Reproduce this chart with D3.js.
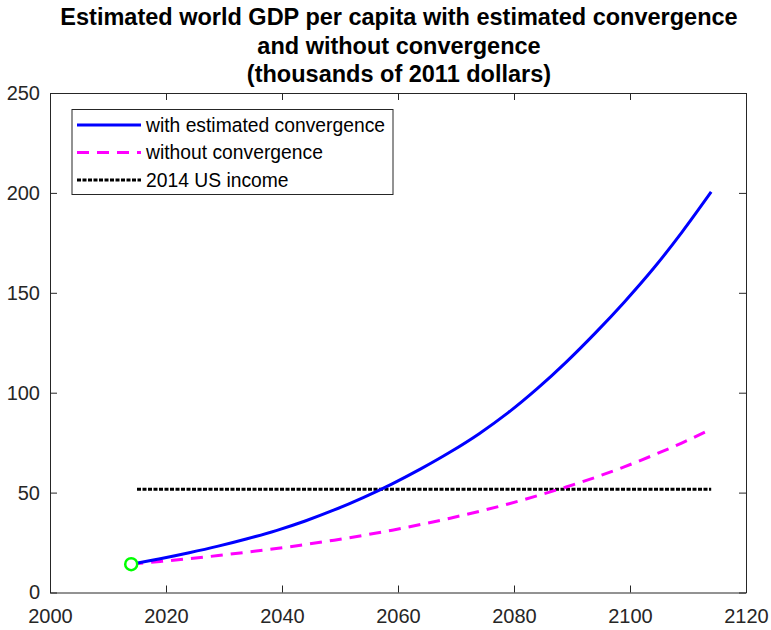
<!DOCTYPE html>
<html>
<head>
<meta charset="utf-8">
<script src="https://cdn.jsdelivr.net/npm/d3@7"></script>
<style>
  body { margin: 0; background: #fff; }
  svg { display: block; font-family: "Liberation Sans", Arial, sans-serif; }
</style>
</head>
<body>
<svg id="chart" width="771" height="630"></svg>
<script>
// data (thousands of 2011 dollars)
const years = [2014, 2019, 2024, 2029, 2034, 2039, 2044, 2049, 2054, 2059, 2064,
               2069, 2074, 2079, 2084, 2089, 2094, 2099, 2104, 2109, 2114];
const withConv = [14.2, 16.9, 19.9, 23.2, 26.9, 31.0, 35.8, 41.3, 47.5, 54.4, 62.0,
                  70.3, 79.5, 90.0, 102.0, 115.3, 129.8, 145.3, 162.0, 180.5, 200.5];
const withoutConv = [14.2, 15.5, 16.9, 18.5, 20.2, 22.0, 24.0, 26.2, 28.6, 31.2, 34.1,
                     37.2, 40.6, 44.3, 48.4, 52.8, 57.6, 62.9, 68.7, 74.9, 81.8];
const usIncomeYears = [2015, 2114];
const usIncome = [51.7, 51.7];
const startPoint = [2014, 14.2];

const xTicks = [2000, 2020, 2040, 2060, 2080, 2100, 2120];
const yTicks = [0, 50, 100, 150, 200, 250];
const titleLines = ['Estimated world GDP per capita with estimated convergence',
                    'and without convergence',
                    '(thousands of 2011 dollars)'];
const legendLabels = ['with estimated convergence', 'without convergence', '2014 US income'];

const svg = d3.select('#chart');
const axisColor = '#262626';

const x = d3.scaleLinear().domain([2000, 2120]).range([50, 746]);
const y = d3.scaleLinear().domain([0, 250]).range([592.5, 93]);

// title
svg.append('g').selectAll('text')
  .data(titleLines)
  .enter()
  .append('text')
  .attr('x', 399)
  .attr('y', (d, i) => 25 + i * 28.5)
  .attr('text-anchor', 'middle')
  .style('font-size', '23.5px')
  .style('font-weight', 'bold')
  .style('fill', '#000')
  .text(d => d);

// axes, MATLAB style: box with inward ticks
const tick = 7;
const gx = svg.append('g')
  .attr('transform', `translate(0,${y(0)})`)
  .call(d3.axisBottom(x).tickValues(xTicks).tickFormat(d3.format('d'))
        .tickSizeInner(-tick).tickSizeOuter(0).tickPadding(16));
const gxTop = svg.append('g')
  .attr('transform', `translate(0,${y(250)})`)
  .call(d3.axisTop(x).tickValues(xTicks).tickFormat('')
        .tickSizeInner(-tick).tickSizeOuter(0));
const gy = svg.append('g')
  .attr('transform', `translate(${x(2000)},0)`)
  .call(d3.axisLeft(y).tickValues(yTicks)
        .tickSizeInner(-tick).tickSizeOuter(0).tickPadding(10));
const gyRight = svg.append('g')
  .attr('transform', `translate(${x(2120)},0)`)
  .call(d3.axisRight(y).tickValues(yTicks).tickFormat('')
        .tickSizeInner(-tick).tickSizeOuter(0));

[gx, gxTop, gy, gyRight].forEach(g => {
  g.select('.domain').attr('stroke', axisColor).attr('stroke-width', 1);
  g.selectAll('.tick line').attr('stroke', axisColor).attr('stroke-width', 1);
  g.selectAll('.tick text')
    .attr('fill', axisColor)
    .style('font-size', '20px')
    .style('font-family', '"Liberation Sans", Arial, sans-serif');
});

// series
const line = d3.line()
  .x(d => x(d[0]))
  .y(d => y(d[1]))
  .curve(d3.curveMonotoneX);

const blueData = years.map((yr, i) => [yr, withConv[i]]);
const magentaData = years.map((yr, i) => [yr, withoutConv[i]]);
const blackData = usIncomeYears.map((yr, i) => [yr, usIncome[i]]);

svg.append('path')
  .datum(blackData)
  .attr('d', line)
  .attr('fill', 'none')
  .attr('stroke', '#000')
  .attr('stroke-width', 3)
  .attr('stroke-dasharray', '4,1.5');

svg.append('path')
  .datum(magentaData)
  .attr('d', line)
  .attr('fill', 'none')
  .attr('stroke', '#ff00ff')
  .attr('stroke-width', 3)
  .attr('stroke-dasharray', '12,8');

svg.append('path')
  .datum(blueData)
  .attr('d', line)
  .attr('fill', 'none')
  .attr('stroke', '#0000ff')
  .attr('stroke-width', 3);

svg.append('circle')
  .attr('cx', x(startPoint[0]))
  .attr('cy', y(startPoint[1]))
  .attr('r', 6)
  .attr('fill', '#fff')
  .attr('stroke', '#00ff00')
  .attr('stroke-width', 2.5);

// legend
const legend = svg.append('g');
legend.append('rect')
  .attr('x', 72).attr('y', 109.5)
  .attr('width', 321).attr('height', 85)
  .attr('fill', '#fff')
  .attr('stroke', axisColor)
  .attr('stroke-width', 1);

const legendStyles = [
  { color: '#0000ff', dash: null, w: 3 },
  { color: '#ff00ff', dash: '12,8', w: 3 },
  { color: '#000', dash: '4,1.5', w: 3 }
];

legend.selectAll('g.item')
  .data(legendLabels)
  .enter()
  .append('g')
  .attr('class', 'item')
  .each(function (d, i) {
    const g = d3.select(this);
    const ly = 125 + i * 27.5;
    const s = legendStyles[i];
    g.append('line')
      .attr('x1', 77).attr('x2', 141)
      .attr('y1', ly).attr('y2', ly)
      .attr('stroke', s.color)
      .attr('stroke-width', s.w)
      .attr('stroke-dasharray', s.dash);
    g.append('text')
      .attr('x', 146)
      .attr('y', ly + 6.5)
      .style('font-size', '19.3px')
      .attr('fill', '#000')
      .text(d);
  });
</script>
</body>
</html>
